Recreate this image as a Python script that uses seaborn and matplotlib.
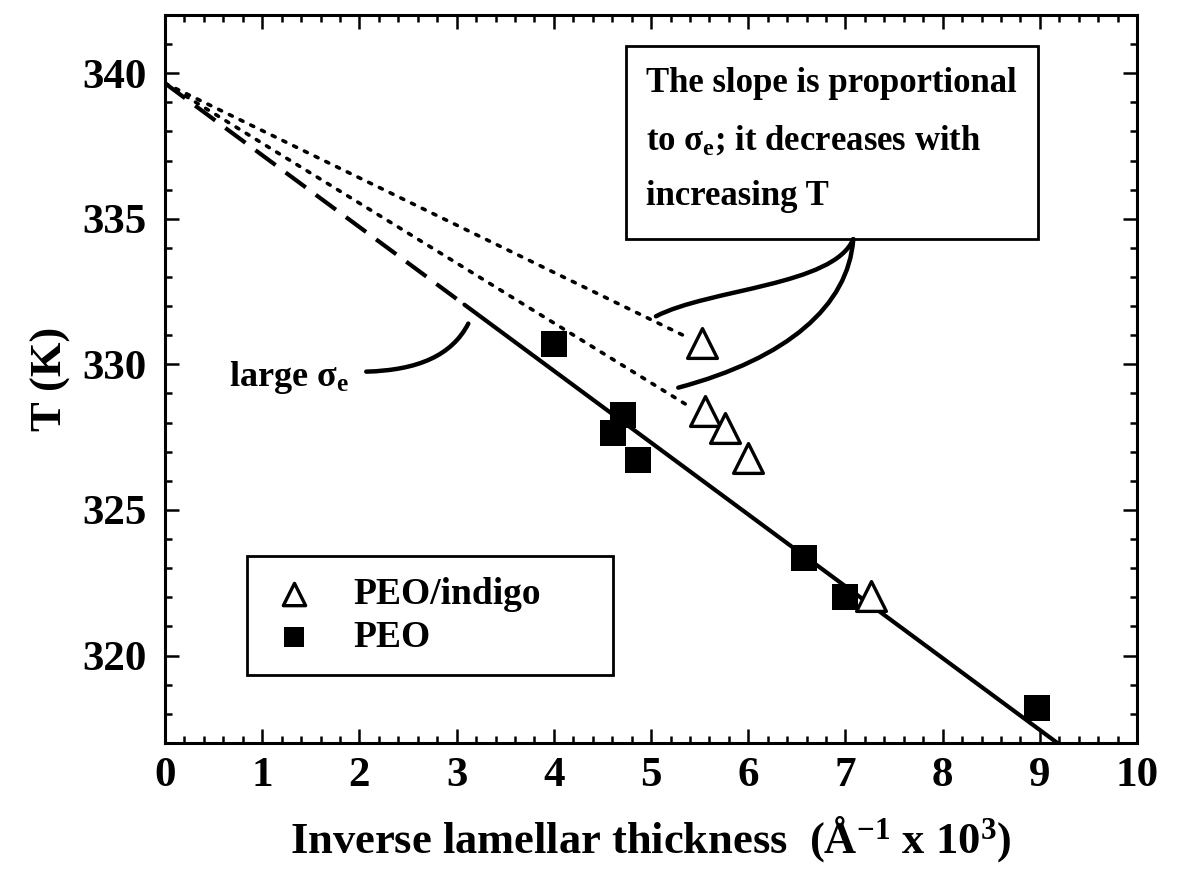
import matplotlib
matplotlib.use("Agg")
import matplotlib.pyplot as plt
import seaborn as sns
from matplotlib.path import Path
from matplotlib.patches import PathPatch, Rectangle
from matplotlib.ticker import MultipleLocator

# Melting temperature vs. inverse lamellar thickness
indigo_x = [5.52, 5.55, 5.76, 6.00, 7.26]
indigo_y = [330.75, 328.40, 327.80, 326.80, 322.05]
peo_x = [4.00, 4.61, 4.71, 4.87, 6.57, 7.00, 8.97]
peo_y = [330.70, 327.65, 328.25, 326.70, 323.35, 322.00, 318.20]

# Gibbs-Thomson extrapolations (common intercept at 1/l = 0)
peo_fit_x = [0.0, 3.08, 9.20]
peo_fit_y = [339.65, 332.05, 316.95]
indigo_fit_hi_x = [0.0, 5.33]
indigo_fit_hi_y = [339.65, 331.00]
indigo_fit_lo_x = [0.0, 5.42]
indigo_fit_lo_y = [339.65, 328.50]

x_ticks = [0, 1, 2, 3, 4, 5, 6, 7, 8, 9, 10]
y_ticks = [320, 325, 330, 335, 340]

sns.set_theme(style="ticks")
plt.rcParams.update({
    "font.family": ["Liberation Serif", "DejaVu Serif"],
    "font.weight": "bold",
    "axes.labelweight": "bold",
    "mathtext.fontset": "custom",
    "mathtext.rm": "Liberation Serif:bold",
    "mathtext.it": "Liberation Serif:italic:bold",
    "mathtext.bf": "Liberation Serif:bold",
    "mathtext.default": "rm",
    "axes.edgecolor": "black",
    "axes.linewidth": 2.2,
    "xtick.color": "black",
    "ytick.color": "black",
    "text.color": "black",
    "axes.labelcolor": "black",
})

fig = plt.figure(figsize=(11.83, 8.72), dpi=100)
ax = fig.add_axes([0.1395, 0.148, 0.8217, 0.8349])

# fit lines
sns.lineplot(x=peo_fit_x[:2], y=peo_fit_y[:2], ax=ax, color="black", lw=3,
             linestyle=(0, (6, 3)), sort=False, estimator=None)
sns.lineplot(x=peo_fit_x[1:], y=peo_fit_y[1:], ax=ax, color="black", lw=3,
             sort=False, estimator=None)
for fx, fy in [(indigo_fit_hi_x, indigo_fit_hi_y), (indigo_fit_lo_x, indigo_fit_lo_y)]:
    sns.lineplot(x=fx, y=fy, ax=ax, color="black", lw=2.6,
                 linestyle=(0, (0.9, 2.4)), sort=False, estimator=None,
                 dash_capstyle="round")

# data points
sns.scatterplot(x=indigo_x, y=indigo_y, ax=ax, marker="^", s=460, color="white",
                edgecolor="black", linewidth=2.4, label="PEO/indigo", zorder=3)
sns.scatterplot(x=peo_x, y=peo_y, ax=ax, marker="s", s=360, color="black",
                edgecolor="black", linewidth=0, label="PEO", zorder=4)

ax.set_xlim(0, 10)
ax.set_ylim(317, 342)
ax.set_xticks(x_ticks)
ax.set_yticks(y_ticks)
ax.xaxis.set_minor_locator(MultipleLocator(0.2))
ax.yaxis.set_minor_locator(MultipleLocator(1))
ax.tick_params(which="both", direction="in", top=True, right=True, width=1.8)
ax.tick_params(which="major", length=10)
ax.tick_params(which="minor", length=5)
ax.tick_params(axis="x", labelsize=31, pad=10)
ax.tick_params(axis="y", labelsize=31, pad=13)

ax.set_xlabel(r"Inverse lamellar thickness  (Å$^{-1}$ x 10$^{3}$)", fontsize=32,
              fontweight="bold", labelpad=14)
ax.set_ylabel("T (K)", fontsize=32, fontweight="bold", labelpad=8)

leg = ax.legend(loc="lower left", bbox_to_anchor=(0.084, 0.093, 0.377, 0.164),
                mode="expand", frameon=True, fancybox=False, edgecolor="black",
                framealpha=1, fontsize=27, handletextpad=0.9, borderpad=0.55,
                labelspacing=0.2, handlelength=1.4, borderaxespad=0,
                markerscale=0.75)
leg.get_frame().set_linewidth(2)

# explanatory box
ax.add_patch(Rectangle((4.74, 334.3), 8.98 - 4.74, 340.93 - 334.3, facecolor="white",
                       edgecolor="black", lw=2, zorder=5))
ax.text(4.95, 340.2,
        "The slope is proportional\nto $\\sigma_e$; it decreases with\nincreasing T",
        fontsize=25, ha="left", va="top", linespacing=1.9, zorder=6)

# brace from the box to the two dotted extrapolations
codes = [Path.MOVETO, Path.CURVE4, Path.CURVE4, Path.CURVE4]
brace_hi = Path([(7.08, 334.3), (6.88, 332.7), (5.6, 332.6), (5.05, 331.65)], codes)
brace_lo = Path([(7.08, 334.3), (7.03, 332.0), (6.4, 330.2), (5.28, 329.2)], codes)
for p in (brace_hi, brace_lo):
    ax.add_patch(PathPatch(p, fill=False, lw=3.2, edgecolor="black",
                           capstyle="round", zorder=5))

# "large sigma_e" pointer to the PEO line
ax.text(0.66, 329.24, r"large $\sigma_e$", fontsize=26, ha="left", va="baseline")
pointer = Path([(2.07, 329.75), (2.6, 329.8), (2.95, 330.3), (3.12, 331.4)], codes)
ax.add_patch(PathPatch(pointer, fill=False, lw=3.2, edgecolor="black",
                       capstyle="round", zorder=5))

fig.savefig("out.png", dpi=100)
